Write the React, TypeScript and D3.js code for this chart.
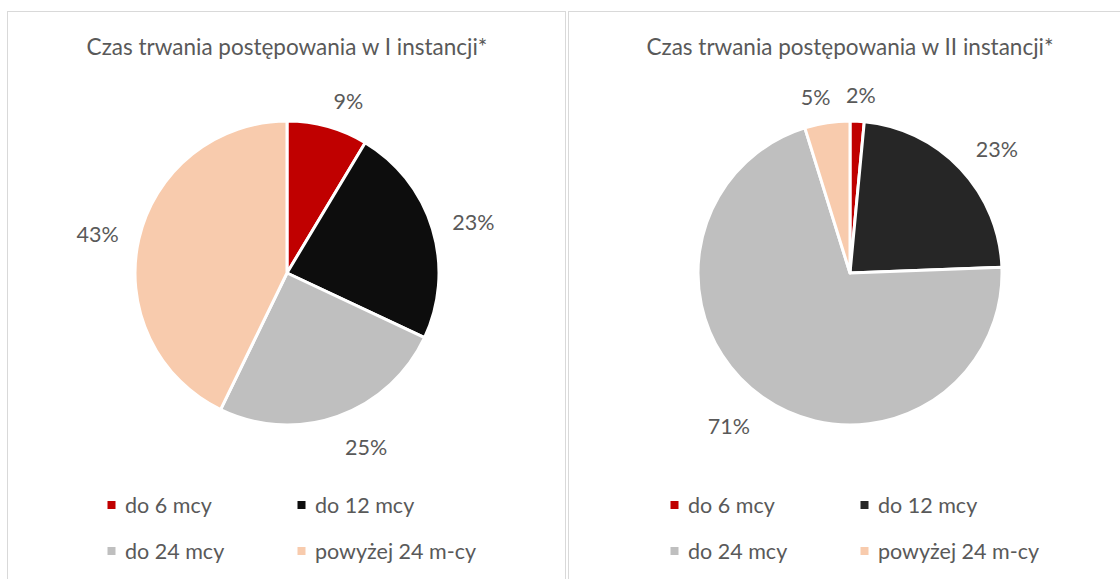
import React from "react";
import * as d3 from "d3";

// categories shared by both pies
const categories = ["do 6 mcy", "do 12 mcy", "do 24 mcy", "powyżej 24 m-cy"];

// shares in percent
const firstInstance = [8.6, 23.4, 25.2, 42.8];
const secondInstance = [1.5, 22.9, 70.8, 4.8];

const titles = [
  "Czas trwania postępowania w I instancji*",
  "Czas trwania postępowania w II instancji*",
];

const coloursI = ["#C00000", "#0D0D0D", "#BFBFBF", "#F8CBAD"];
const coloursII = ["#C00000", "#262626", "#BFBFBF", "#F8CBAD"];

const W = 1120;
const H = 579;
const FONT = "Lato, 'Open Sans', sans-serif";
const TXT = "#595959";
const FS = 21.5;

type PanelProps = {
  x0: number;
  width: number;
  title: string;
  values: number[];
  colours: string[];
};

const clamp = (v: number) => Math.max(-1, Math.min(1, v));

const Panel = ({ x0, width, title, values, colours }: PanelProps) => {
  const cx = x0 + width / 2;
  const cy = 273;
  const r = 152;

  const pie = d3.pie<number>().sort(null).value((d) => d);
  const arcs = pie(values);
  const arc = d3.arc<d3.PieArcDatum<number>>().innerRadius(0).outerRadius(r);

  // label: nearest corner of the text box sits on a ring outside the pie
  const ring = 172;
  const labelPos = (a: number, text: string) => {
    const w = (text.length - 1) * FS * 0.5 + FS * 0.75 + 6;
    const h = FS * 0.85;
    const s = Math.sin(a);
    const c = Math.cos(a);
    const px = cx + ring * s;
    const py = cy - ring * c;
    return [px + clamp(s * 3.5) * w / 2, py - clamp(c * 1.5) * h / 2 + 3];
  };

  const legendX = cx - 179.5;
  const colStep = 190;

  return (
    <g>
      <text
        x={cx}
        y={54.5}
        textAnchor="middle"
        fontFamily={FONT}
        fontSize={FS + 1}
        fill={TXT}
      >
        {title}
      </text>
      {arcs.map((a, i) => (
        <path
          key={i}
          d={arc(a) || ""}
          transform={`translate(${cx},${cy})`}
          fill={colours[i]}
          stroke="#fff"
          strokeWidth={3}
          strokeLinejoin="round"
        />
      ))}
      {arcs.map((a, i) => {
        const label = `${Math.round(values[i])}%`;
        const [lx, ly] = labelPos((a.startAngle + a.endAngle) / 2, label);
        return (
          <text
            key={i}
            x={lx}
            y={ly}
            textAnchor="middle"
            dominantBaseline="central"
            fontFamily={FONT}
            fontSize={FS}
            fill={TXT}
          >
            {label}
          </text>
        );
      })}
      {categories.map((c, i) => {
        const col = i % 2;
        const row = Math.floor(i / 2);
        const sx = legendX + col * colStep;
        const sy = 501 + row * 46;
        return (
          <g key={c}>
            <rect x={sx} y={sy} width={8} height={8} fill={colours[i]} />
            <text
              x={sx + 17.5}
              y={sy + 12}
              fontFamily={FONT}
              fontSize={FS}
              fill={TXT}
            >
              {c}
            </text>
          </g>
        );
      })}
    </g>
  );
};

export default function App() {
  return (
    <svg
      width={W}
      height={H}
      style={{ position: "absolute", left: 0, top: 0, background: "#fff" }}
    >
      <rect x={0} y={0} width={W} height={H} fill="#fff" />
      <rect x={7.5} y={11.5} width={558} height={H} fill="none" stroke="#D9D9D9" />
      <rect x={568.5} y={11.5} width={W} height={H} fill="none" stroke="#D9D9D9" />
      <Panel x0={8} width={558} title={titles[0]} values={firstInstance} colours={coloursI} />
      <Panel x0={569} width={562} title={titles[1]} values={secondInstance} colours={coloursII} />
    </svg>
  );
}
